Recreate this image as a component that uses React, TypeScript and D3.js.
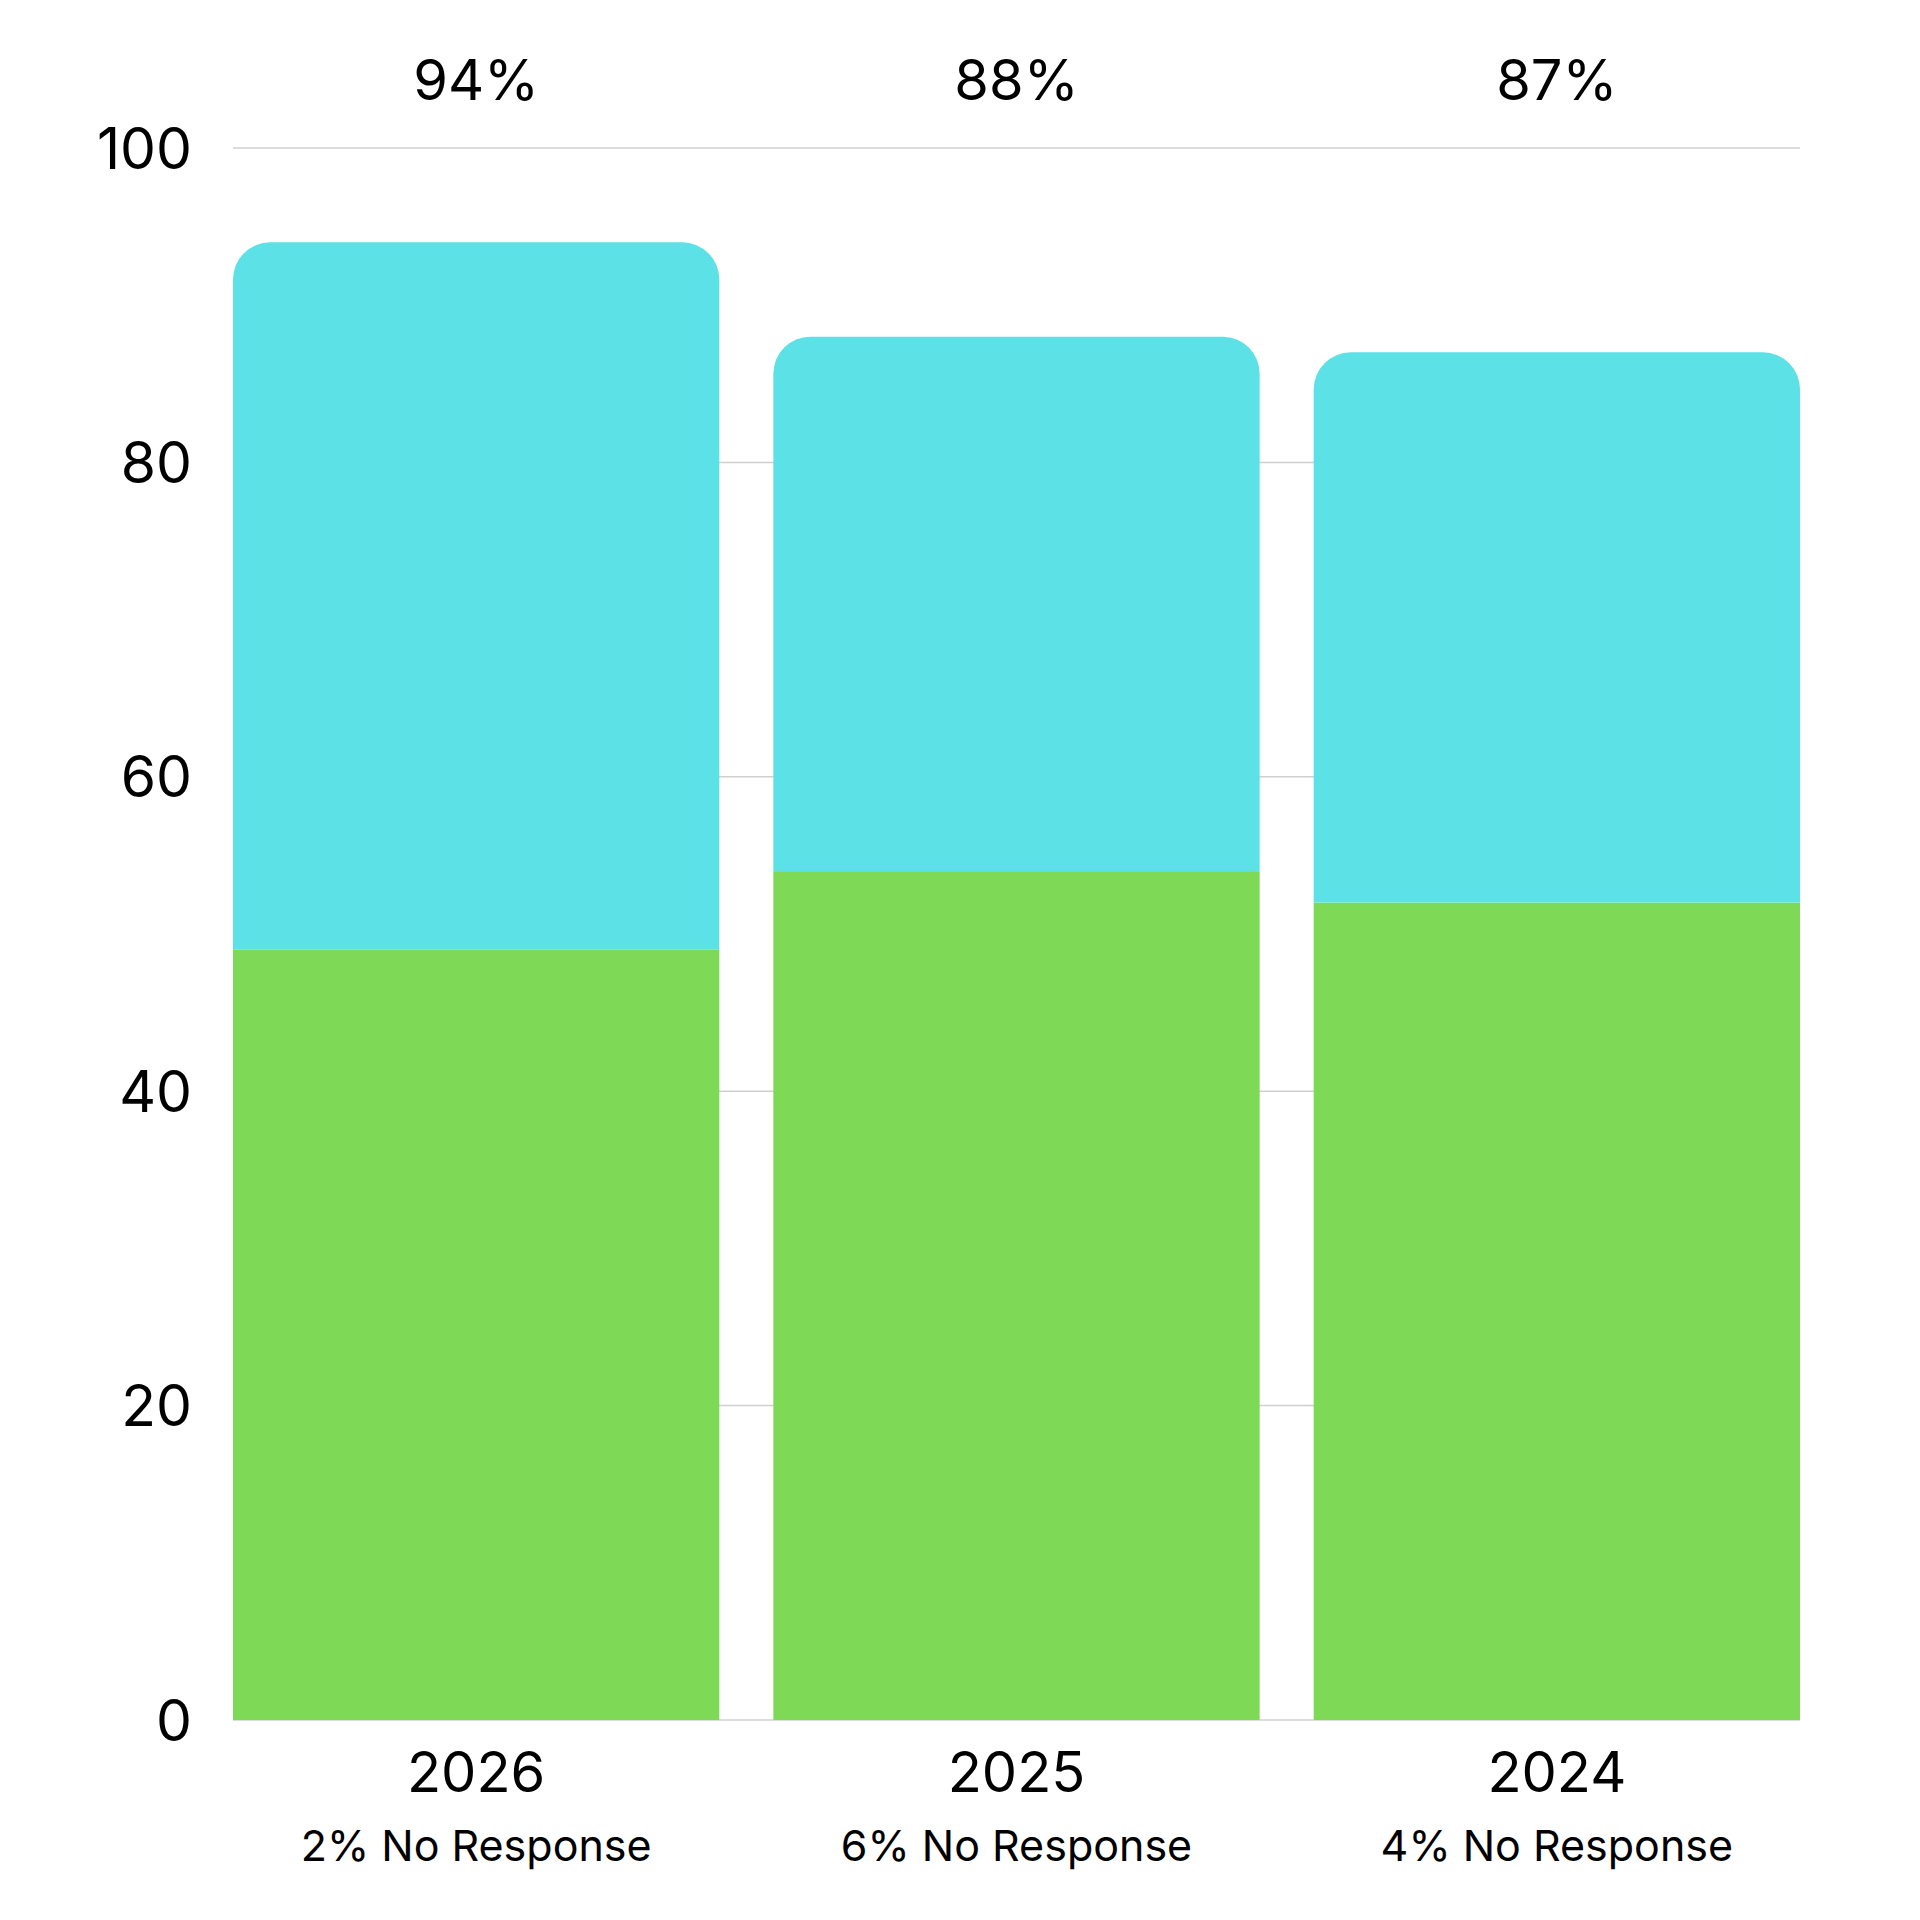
import React, { useEffect, useRef } from 'react';
import * as d3 from 'd3';

// chart data
const years = ['2026', '2025', '2024'];
const greenValues = [49, 54, 52];
const cyanValues = [45, 34, 35];
const totalLabels = ['94%', '88%', '87%'];
const noResponseLabels = ['2% No Response', '6% No Response', '4% No Response'];
const yTicks = [0, 20, 40, 60, 80, 100];

const GREEN = '#7ed957';
const CYAN = '#5ce1e6';
const FONT = 'Inter, "Noto Sans", sans-serif';

function StackedBars(props: any) {
  let d3Container = useRef<SVGSVGElement>(null);

  let dims = {
    width: props.width ? props.width : 1920,
    height: props.height ? props.height : 1920,
    left: 233,
    right: 1800,
    top: 148,
    bottom: 1720
  };

  useEffect(function () {
    if (!d3Container.current) return;

    const svg = d3.select(d3Container.current);
    svg.selectAll('*').remove();

    const x = d3.scaleBand<string>()
      .domain(years)
      .range([dims.left, dims.right])
      .paddingInner(0.1)
      .paddingOuter(0);

    const y = d3.scaleLinear()
      .domain([0, 100])
      .range([dims.bottom, dims.top]);

    // gridlines behind the bars
    svg.append('g')
      .selectAll('line')
      .data(yTicks)
      .join('line')
      .attr('x1', dims.left)
      .attr('x2', dims.right)
      .attr('y1', d => y(d))
      .attr('y2', d => y(d))
      .attr('stroke', '#d0d0d0')
      .attr('stroke-width', 1.5);

    // y tick labels
    svg.append('g')
      .selectAll('text')
      .data(yTicks)
      .join('text')
      .attr('x', dims.left - 41)
      .attr('y', d => y(d))
      .attr('text-anchor', 'end')
      .attr('dominant-baseline', 'central')
      .attr('font-family', FONT)
      .attr('font-size', 57)
      .attr('fill', '#000')
      .text(d => String(d));

    const bw = x.bandwidth();
    const r = 37;

    // green bottom segment
    svg.append('g')
      .selectAll('rect')
      .data(years)
      .join('rect')
      .attr('x', d => x(d) as number)
      .attr('y', (d, i) => y(greenValues[i]))
      .attr('width', bw)
      .attr('height', (d, i) => y(0) - y(greenValues[i]))
      .attr('fill', GREEN);

    // cyan top segment with rounded top corners
    svg.append('g')
      .selectAll('path')
      .data(years)
      .join('path')
      .attr('d', (d, i) => {
        const x0 = x(d) as number;
        const x1 = x0 + bw;
        const yb = y(greenValues[i]);
        const yt = y(greenValues[i] + cyanValues[i]);
        const p = d3.path();
        p.moveTo(x0, yb);
        p.lineTo(x0, yt + r);
        p.arcTo(x0, yt, x0 + r, yt, r);
        p.lineTo(x1 - r, yt);
        p.arcTo(x1, yt, x1, yt + r, r);
        p.lineTo(x1, yb);
        p.closePath();
        return p.toString();
      })
      .attr('fill', CYAN);

    // totals above
    svg.append('g')
      .selectAll('text')
      .data(years)
      .join('text')
      .attr('x', d => (x(d) as number) + bw / 2)
      .attr('y', 100)
      .attr('text-anchor', 'middle')
      .attr('font-family', FONT)
      .attr('font-size', 56)
      .attr('fill', '#000')
      .text((d, i) => totalLabels[i]);

    // year labels
    svg.append('g')
      .selectAll('text')
      .data(years)
      .join('text')
      .attr('x', d => (x(d) as number) + bw / 2)
      .attr('y', 1792)
      .attr('text-anchor', 'middle')
      .attr('font-family', FONT)
      .attr('font-size', 56)
      .attr('fill', '#000')
      .text(d => d);

    // no response labels
    svg.append('g')
      .selectAll('text')
      .data(years)
      .join('text')
      .attr('x', d => (x(d) as number) + bw / 2)
      .attr('y', 1861)
      .attr('text-anchor', 'middle')
      .attr('font-family', FONT)
      .attr('font-size', 43)
      .attr('fill', '#000')
      .text((d, i) => noResponseLabels[i]);
  }, []);

  return (
    <svg
      width={dims.width}
      height={dims.height}
      ref={d3Container}
      style={{ position: 'absolute', left: 0, top: 0, background: '#fff' }}
    />
  );
}

export default function App() {
  return <StackedBars width={1920} height={1920} />;
}
